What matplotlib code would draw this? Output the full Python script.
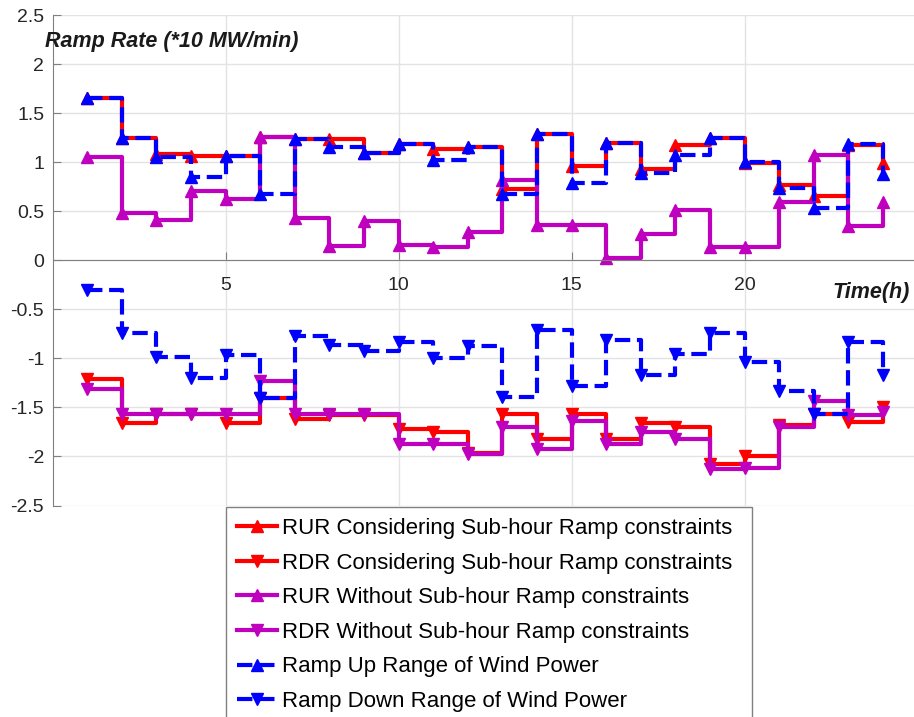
import numpy as np
import matplotlib.pyplot as plt

plt.rcParams['font.family'] = ['Liberation Sans', 'DejaVu Sans']

# Datos
hours = np.arange(1, 25)
rur_sub = [1.65, 1.25, 1.08, 1.06, 1.06, 1.26, 1.24, 1.24, 1.09, 1.18, 1.13, 1.15,
           0.73, 1.29, 0.96, 1.20, 0.93, 1.17, 1.25, 0.99, 0.77, 0.66, 1.17, 0.99]
rdr_sub = [-1.21, -1.66, -1.57, -1.57, -1.66, -1.40, -1.62, -1.58, -1.58, -1.72, -1.75, -1.96,
           -1.57, -1.82, -1.57, -1.82, -1.66, -1.70, -2.08, -2.00, -1.68, -1.57, -1.65, -1.50]
rur_wo = [1.05, 0.48, 0.41, 0.71, 0.62, 1.26, 0.43, 0.15, 0.40, 0.16, 0.13, 0.29,
          0.82, 0.36, 0.36, 0.02, 0.27, 0.51, 0.13, 0.14, 0.59, 1.07, 0.35, 0.59]
rdr_wo = [-1.31, -1.57, -1.57, -1.57, -1.57, -1.23, -1.57, -1.57, -1.57, -1.87, -1.87, -1.97,
          -1.70, -1.92, -1.64, -1.87, -1.75, -1.82, -2.13, -2.12, -1.70, -1.43, -1.58, -1.55]
wind_up = [1.65, 1.25, 1.05, 0.85, 1.06, 0.68, 1.24, 1.15, 1.09, 1.18, 1.02, 1.15,
           0.68, 1.29, 0.79, 1.20, 0.89, 1.07, 1.25, 1.00, 0.74, 0.53, 1.18, 0.88]
wind_down = [-0.30, -0.74, -0.99, -1.20, -0.97, -1.40, -0.77, -0.86, -0.93, -0.83, -1.00, -0.87,
             -1.39, -0.71, -1.28, -0.81, -1.17, -0.96, -0.74, -1.04, -1.33, -1.57, -0.83, -1.17]

labels = ['RUR Considering Sub-hour Ramp constraints',
          'RDR Considering Sub-hour Ramp constraints',
          'RUR Without Sub-hour Ramp constraints',
          'RDR Without Sub-hour Ramp constraints',
          'Ramp Up Range of Wind Power',
          'Ramp Down Range of Wind Power']

red = '#ff0000'
purple = '#bf00bf'
blue = '#0000ff'

fig = plt.figure(figsize=(9.14, 7.17), dpi=100)
ax = fig.add_axes([52.5 / 914, 1 - 505.5 / 717, 1 - 52.5 / 914, (505.5 - 15) / 717])

lw = 3
ms = 9
ax.plot(hours, rur_sub, color=red, lw=lw, drawstyle='steps-post', marker='^', ms=ms, label=labels[0])
ax.plot(hours, rdr_sub, color=red, lw=lw, drawstyle='steps-post', marker='v', ms=ms, label=labels[1])
ax.plot(hours, rur_wo, color=purple, lw=lw, drawstyle='steps-post', marker='^', ms=ms, label=labels[2])
ax.plot(hours, rdr_wo, color=purple, lw=lw, drawstyle='steps-post', marker='v', ms=ms, label=labels[3])
ax.plot(hours, wind_up, color=blue, lw=lw, ls='--', drawstyle='steps-post', marker='^', ms=ms, label=labels[4])
ax.plot(hours, wind_down, color=blue, lw=lw, ls='--', drawstyle='steps-post', marker='v', ms=ms, label=labels[5])

ax.set_xlim(0, (914 - 52.5) / 34.6)
ax.set_ylim(-2.5, 2.5)
ax.set_xticks([5, 10, 15, 20])
ax.set_yticks(np.arange(-2.5, 2.51, 0.5))
ax.set_yticklabels(['-2.5', '-2', '-1.5', '-1', '-0.5', '0', '0.5', '1', '1.5', '2', '2.5'])

ax.spines['top'].set_visible(False)
ax.spines['right'].set_visible(False)
ax.spines['bottom'].set_position(('data', 0))
ax.spines['bottom'].set_color('#808080')
ax.spines['left'].set_color('#808080')
ax.tick_params(direction='in', length=6, color='#808080', labelcolor='#262626', labelsize=14)
ax.tick_params(axis='x', pad=12)
ax.tick_params(axis='y', pad=6)
ax.grid(True, color='#e3e3e3', lw=1)
ax.set_axisbelow(True)

ax.text(-0.21, 2.23, 'Ramp Rate (*10 MW/min)', fontsize=15.5, fontweight='bold', fontstyle='italic',
        ha='left', va='center', color='#1a1a1a', clip_on=False)
ax.text(24.77, -0.33, 'Time(h)', fontsize=15.5, fontweight='bold', fontstyle='italic',
        ha='right', va='center', color='#1a1a1a')

# legenda abaixo do gráfico (cortada na borda inferior, como no original)
x0 = 226 / 914
y_top = 1 - 507 / 717
leg = fig.legend(loc='upper left', bbox_to_anchor=(x0, y_top - 0.4, (752 - 226) / 914, 0.4),
                 mode='expand', fontsize=16,
                 frameon=True, fancybox=False, edgecolor='#808080', framealpha=1,
                 handlelength=1.8, handletextpad=0.2, labelspacing=0.61, borderpad=0.5,
                 borderaxespad=0)
leg.get_frame().set_linewidth(1)

fig.savefig('out.png', dpi=100)
